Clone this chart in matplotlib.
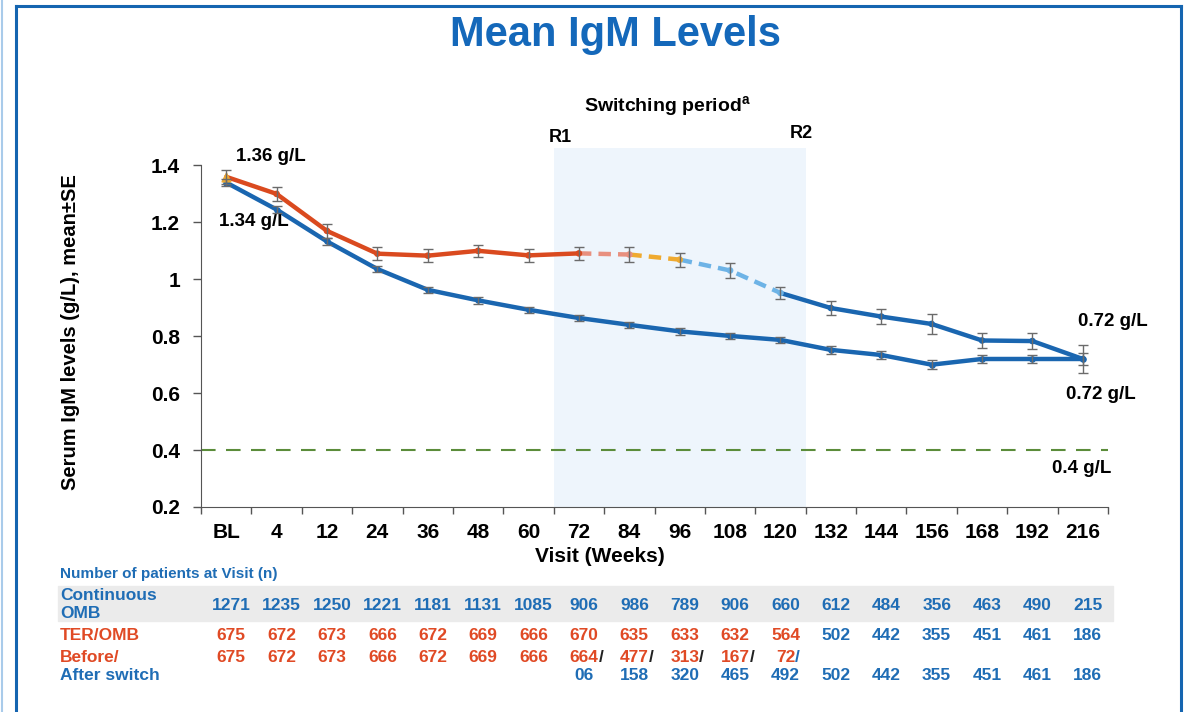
import numpy as np
import matplotlib
matplotlib.use("Agg")
import matplotlib.pyplot as plt
from matplotlib.patches import Rectangle
from matplotlib.lines import Line2D
from matplotlib.transforms import blended_transform_factory

plt.rcParams['font.family'] = ['Liberation Sans', 'DejaVu Sans']
plt.rcParams['font.weight'] = 'bold'
plt.rcParams['mathtext.fontset'] = 'custom'
plt.rcParams['mathtext.bf'] = 'Liberation Sans:bold'

# data
visits = ['BL', '4', '12', '24', '36', '48', '60', '72', '84', '96', '108', '120',
          '132', '144', '156', '168', '192', '216']
ter_omb = [1.36, 1.30, 1.17, 1.09, 1.083, 1.10, 1.084, 1.091, 1.087, 1.069, 1.031, 0.952,
           0.899, 0.869, 0.843, 0.785, 0.783, 0.72]
ter_se = [0.025, 0.025, 0.025, 0.022, 0.022, 0.022, 0.022, 0.022, 0.025, 0.025, 0.025, 0.022,
          0.025, 0.027, 0.035, 0.025, 0.028, 0.05]
cont_omb = [1.34, 1.245, 1.133, 1.036, 0.963, 0.926, 0.893, 0.864, 0.84, 0.817, 0.801, 0.787,
            0.752, 0.734, 0.70, 0.72, 0.72, 0.72]
cont_se = [0.012, 0.012, 0.012, 0.012, 0.01, 0.012, 0.01, 0.012, 0.01, 0.012, 0.012, 0.012,
           0.013, 0.013, 0.015, 0.015, 0.015, 0.02]
threshold = 0.4

n_cont = [1271, 1235, 1250, 1221, 1181, 1131, 1085, 906, 986, 789, 906, 660, 612, 484, 356, 463, 490, 215]
n_ter = [675, 672, 673, 666, 672, 669, 666, 670, 635, 633, 632, 564, 502, 442, 355, 451, 461, 186]
n_before = ['675', '672', '673', '666', '672', '669', '666', '664', '477', '313', '167', '72',
            '', '', '', '', '', '']
n_after = ['', '', '', '', '', '', '', '06', '158', '320', '465', '492',
           '502', '442', '355', '451', '461', '186']

RED = '#DA4A1F'
BLUE = '#1A66B0'
SALMON = '#E8907F'
ORANGE = '#EFAA30'
LBLUE = '#6DB3E6'
TBLUE = '#1F6DB5'
TRED = '#E04A25'

x = np.arange(len(visits))

fig = plt.figure(figsize=(11.84, 7.12), dpi=100)
W, H = 1184, 712
ax = fig.add_axes([201 / W, 1 - 507 / H, 907 / W, (507 - 147.5) / H])

ax.axvspan(6.5, 11.5, color='#EEF5FC', zorder=0, lw=0)
ax.axhline(threshold, color='#5B8C3A', lw=1.5, dashes=(7, 5), zorder=1)

# continuous OMB
ax.plot(x, cont_omb, color=BLUE, lw=3.2, zorder=3, solid_capstyle='round')
ax.scatter(x, cont_omb, s=14, color=BLUE, zorder=4)

# TER/OMB, split by switch phase
segs = [(0, 7, RED, '-'), (7, 8, SALMON, '--'), (8, 9, ORANGE, '--'),
        (9, 11, LBLUE, '--'), (11, 17, BLUE, '-')]
for a, b, c, ls in segs:
    ln, = ax.plot(x[a:b + 1], ter_omb[a:b + 1], color=c, lw=3.2, ls=ls, zorder=5,
                  solid_capstyle='round')
    if ls == '--':
        ln.set_dashes((2.8, 1.6))
pt_colors = [ORANGE] + [RED] * 7 + [SALMON, ORANGE, LBLUE, LBLUE] + [BLUE] * 6
ax.scatter(x[1:], ter_omb[1:], s=14, color=pt_colors[1:], zorder=6)
ax.scatter(x[:1], ter_omb[:1], s=40, marker='^', color=pt_colors[0], zorder=6)

ax.errorbar(x, cont_omb, yerr=cont_se, fmt='none', ecolor='#6b6b6b', elinewidth=1,
            capsize=3.5, capthick=1, zorder=7)
ax.errorbar(x, ter_omb, yerr=ter_se, fmt='none', ecolor='#6b6b6b', elinewidth=1,
            capsize=3.5, capthick=1, zorder=7)

ax.set_xlim(-0.5, 17.5)
ax.set_ylim(0.2, 1.463)
ax.spines['top'].set_visible(False)
ax.spines['right'].set_visible(False)
ax.spines['left'].set_bounds(0.2, 1.4)
for s in ('left', 'bottom'):
    ax.spines[s].set_color('#555555')
ax.set_yticks([0.2, 0.4, 0.6, 0.8, 1.0, 1.2, 1.4])
ax.set_yticklabels(['0.2', '0.4', '0.6', '0.8', '1', '1.2', '1.4'])
ax.tick_params(axis='y', length=6, width=1, color='#555555', pad=9, labelsize=15)
ax.set_xticks(x)
ax.set_xticklabels(visits)
ax.tick_params(axis='x', which='major', length=0, pad=11.5, labelsize=15)
ax.set_xticks(np.arange(-0.5, 17.6, 1), minor=True)
ax.tick_params(axis='x', which='minor', length=5, width=1, color='#555555')

ax.set_ylabel('Serum IgM levels (g/L), mean±SE', fontsize=14.5, fontweight='bold')
ax.yaxis.set_label_coords(-0.133, 0.487)
fig.text(600 / W, 1 - 557 / H, 'Visit (Weeks)', ha='center', va='center', fontsize=15)

# annotations
ax.text(0.2, 1.432, '1.36 g/L', fontsize=13.5, va='center', clip_on=False)
ax.text(-0.14, 1.203, '1.34 g/L', fontsize=13.5, va='center')
ax.text(16.9, 0.851, '0.72 g/L', fontsize=13.5, va='center', clip_on=False)
ax.text(16.67, 0.594, '0.72 g/L', fontsize=13.5, va='center', clip_on=False)
ax.text(16.39, 0.337, '0.4 g/L', fontsize=13.5, va='center', clip_on=False)
ax.text(6.63, 1.499, 'R1', fontsize=13, ha='center', va='center', clip_on=False)
ax.text(11.41, 1.513, 'R2', fontsize=13, ha='center', va='center', clip_on=False)
ax.text(8.76, 1.608, r'Switching period$^{\mathbf{a}}$', fontsize=14, ha='center',
        va='center', clip_on=False)

fig.text(615.5 / W, 1 - 35 / H, 'Mean IgM Levels', ha='center', va='center',
         fontsize=30, color='#1468BA')

# patients table
tr = blended_transform_factory(ax.transData, fig.transFigure)
fig.patches.append(Rectangle((58 / W, 1 - 621 / H), (1113 - 58) / W, 35 / H,
                             transform=fig.transFigure, color='#EBEBEB', zorder=-5))
fig.text(60 / W, 1 - 574 / H, 'Number of patients at Visit (n)', fontsize=11,
         color=TBLUE, va='center')
fig.text(60 / W, 1 - 604 / H, 'Continuous\nOMB', fontsize=12.5, color=TBLUE, va='center',
         linespacing=1.25)
fig.text(60 / W, 1 - 635 / H, 'TER/OMB', fontsize=12.5, color=TRED, va='center')
fig.text(60 / W, 1 - 657 / H, 'Before/', fontsize=12.5, color=TRED, va='center')
fig.text(60 / W, 1 - 676 / H, 'After switch', fontsize=12.5, color=TBLUE, va='center')

off = 0.1
for i in range(len(visits)):
    xc = x[i] + off
    ax.text(xc, 1 - 605 / H, str(n_cont[i]), transform=tr, ha='center', va='center',
            fontsize=12.5, color=TBLUE)
    ax.text(xc, 1 - 635 / H, str(n_ter[i]), transform=tr, ha='center', va='center',
            fontsize=12.5, color=TRED if i <= 11 else TBLUE)
    if n_before[i]:
        t = ax.text(xc, 1 - 657 / H, n_before[i], transform=tr, ha='center', va='center',
                    fontsize=12.5, color=TRED)
        if i >= 7:
            ax.annotate('/', xy=(1, 0), xycoords=t, ha='left', va='bottom', fontsize=12.5,
                        color='#222222' if i < 11 else TBLUE)
    if n_after[i]:
        ax.text(xc, 1 - 676 / H, n_after[i], transform=tr, ha='center', va='center',
                fontsize=12.5, color=TBLUE)

# slide frame
for xs, ys in [((16 / W, 1181 / W), (1 - 6 / H, 1 - 6 / H)),
               ((16 / W, 16 / W), (1 - 6 / H, 0)),
               ((1181 / W, 1181 / W), (1 - 6 / H, 0))]:
    fig.add_artist(Line2D(xs, ys, color='#1565B0', lw=2.2))
fig.add_artist(Line2D((2 / W, 2 / W), (0, 1), color='#A9CBEA', lw=1.5))

fig.savefig('out.png', dpi=100)
